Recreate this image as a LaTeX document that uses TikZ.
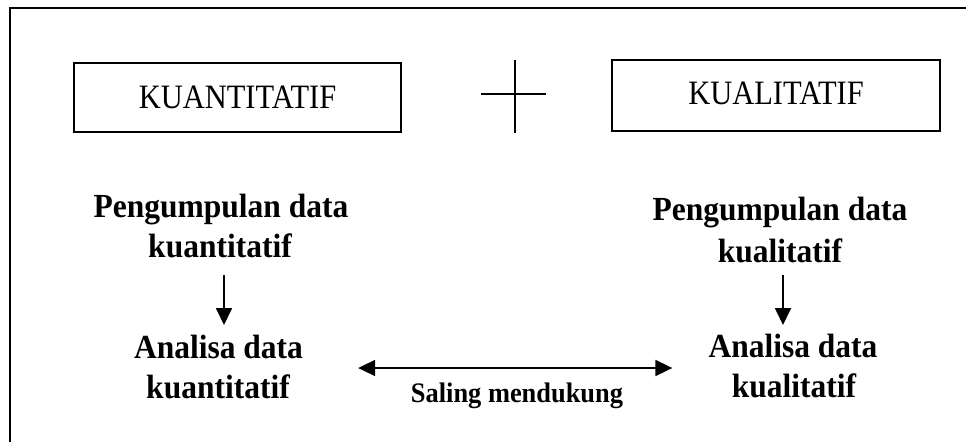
\documentclass[tikz,border=0pt]{standalone}
\usepackage{fontspec}
\usepackage{graphicx}
\setmainfont{Liberation Serif}
\usetikzlibrary{arrows.meta,calc}
\newcommand{\tallR}[1]{\scalebox{1}[1.12]{#1}}
\newcommand{\tallB}[1]{\scalebox{1}[1.07]{#1}}
\tikzset{
  boxnode/.style={draw, line width=1.8pt, inner sep=0pt, font=\fontsize{30.5}{36}\selectfont},
  btext/.style={inner sep=0pt, anchor=base, font=\bfseries\fontsize{31.5}{38}\selectfont},
  stext/.style={inner sep=0pt, anchor=base, font=\bfseries\fontsize{26.4}{30}\selectfont},
  arr/.style={line width=1.8pt, -{Triangle[length=17pt,width=16pt]}},
  darr/.style={line width=1.8pt, {Triangle[length=17pt,width=16pt]}-{Triangle[length=17pt,width=16pt]}},
  frame/.style={line width=2pt},
  crossline/.style={line width=1.4pt}
}
\begin{document}
\begin{tikzpicture}[x=1pt,y=-1pt]
\useasboundingbox (0,0) rectangle (966,442);
\draw[frame] (10,442) -- (10,8) -- (966,8);
% top boxes
\node[boxnode, minimum width=327pt, minimum height=69pt] (kuan) at (237.5,97.5) {\tallR{KUANTITATIF}};
\node[boxnode, minimum width=328pt, minimum height=71pt] (kual) at (776,95.5) {\raisebox{4pt}{\tallR{KUALITATIF}}};
% plus sign
\coordinate (plus) at (514,94);
\draw[crossline] ($(plus)+(-33,0)$) -- ($(plus)+(32,0)$);
\draw[crossline] ($(plus)+(1,-34)$) -- ($(plus)+(1,39)$);
% left column
\node[btext] (pk1) at (221,217) {\tallB{Pengumpulan data}};
\node[btext] (pk2) at (220,257) {\tallB{kuantitatif}};
\node[btext] (ak1) at (218.5,358) {\tallB{Analisa data}};
\node[btext] (ak2) at (218,398) {\tallB{kuantitatif}};
% right column
\node[btext] (pl1) at (780,220) {\tallB{Pengumpulan data}};
\node[btext] (pl2) at (780,262) {\tallB{kualitatif}};
\node[btext] (al1) at (793,357) {\tallB{Analisa data}};
\node[btext] (al2) at (794,397) {\tallB{kualitatif}};
% arrows
\draw[arr] ($(pk2.base)+(4,18)$) -- ($(ak1.base)+(5.5,-33)$);
\draw[arr] ($(pl2.base)+(3,13)$) -- ($(al1.base)+(-10,-32)$);
\draw[darr] ($(ak1.base east)+(55,10)$) -- ($(al1.base west)+(-36,11)$);
\node[stext] (sm) at (517,402) {\tallB{Saling mendukung}};
\end{tikzpicture}
\end{document}
